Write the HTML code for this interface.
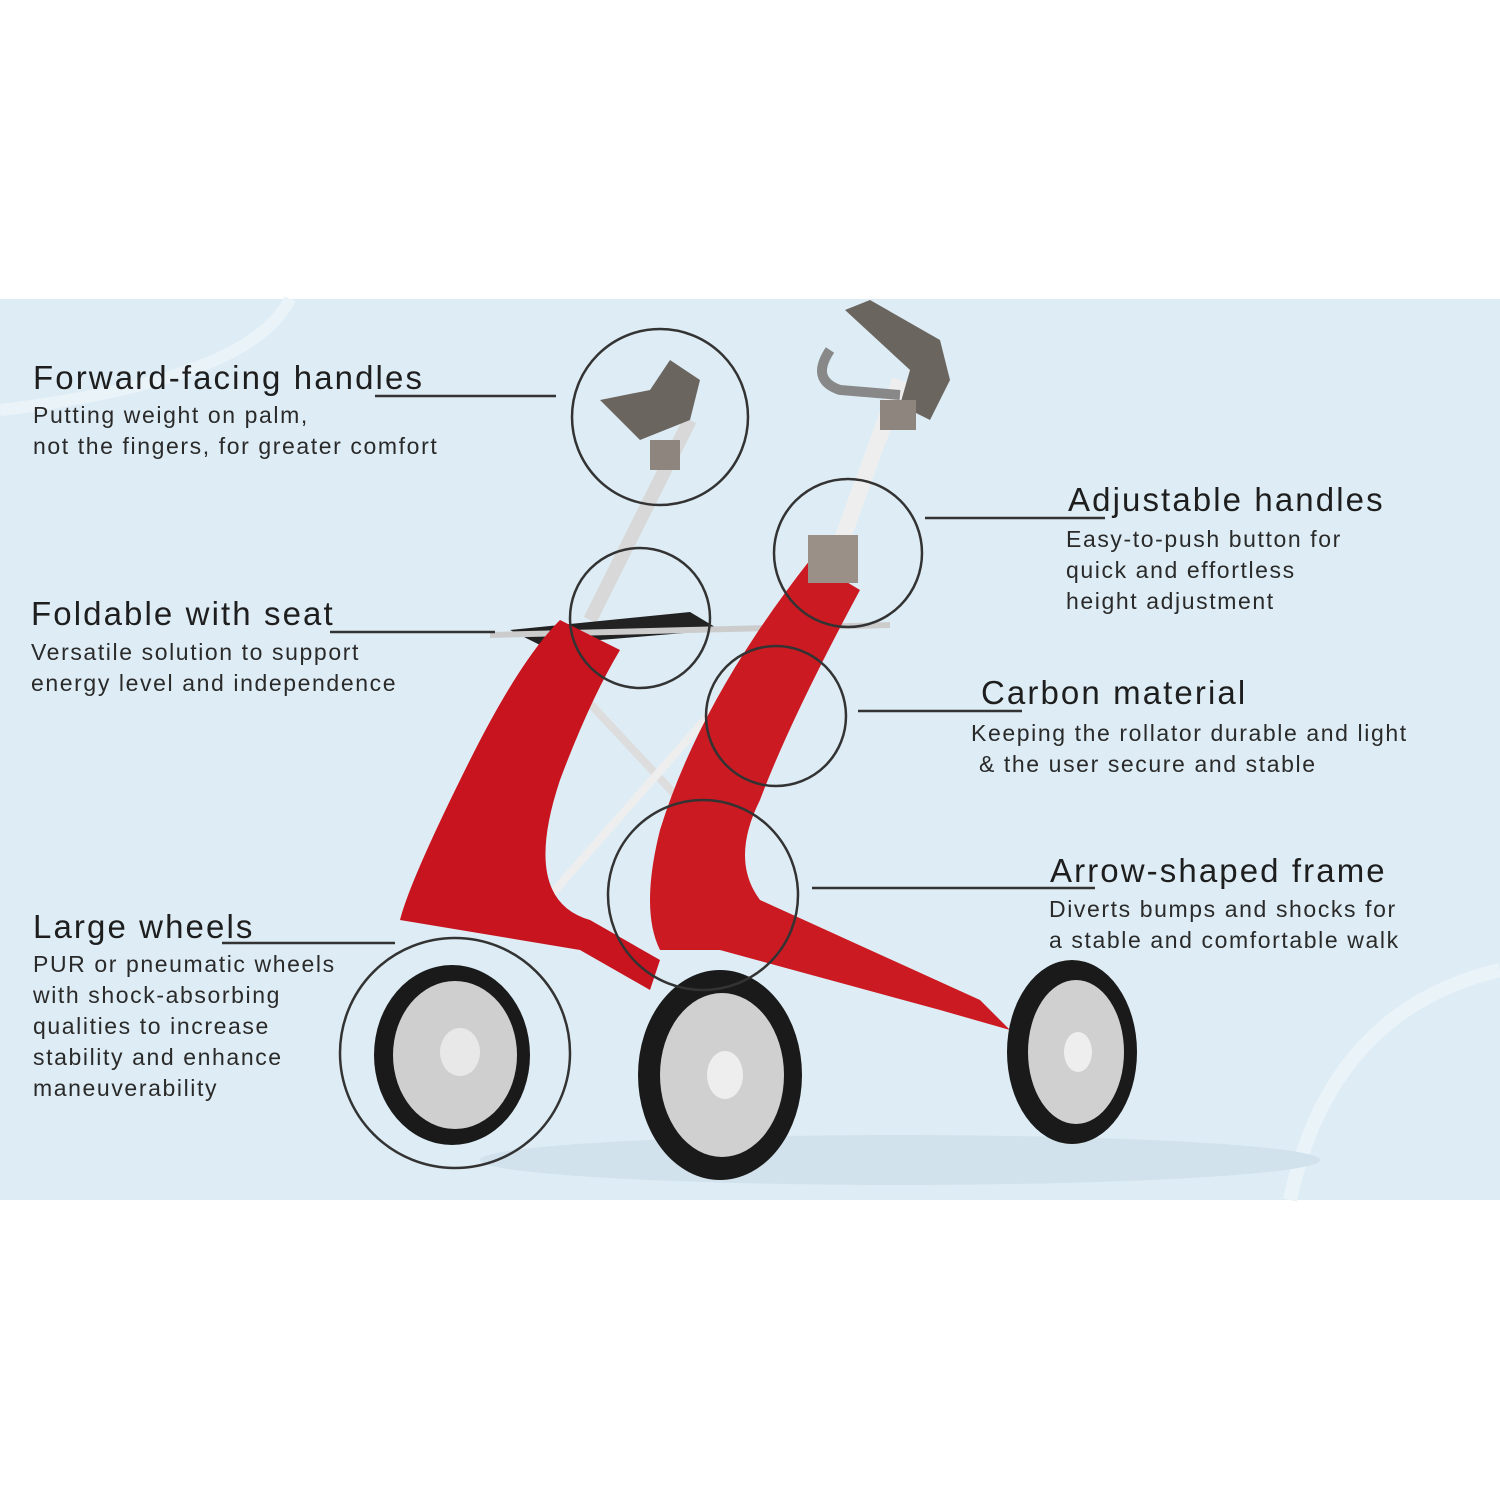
<!DOCTYPE html>
<html><head><meta charset="utf-8"><style>
body{margin:0;width:1500px;height:1500px;background:#fff;position:relative;overflow:hidden;font-family:"Liberation Sans",sans-serif;color:#1e1e1e}
.panel{position:absolute;left:0;top:299px;width:1500px;height:901px;background:#deedf5}
svg{position:absolute;left:0;top:0}
.h{position:absolute;font-size:33px;white-space:nowrap;letter-spacing:2.1px}
.s{position:absolute;font-size:23px;line-height:31px;white-space:nowrap;color:#2a2a2a;letter-spacing:1.6px}
</style></head><body>
<div class="panel"></div>
<svg width="1500" height="1500" viewBox="0 0 1500 1500">
<path d="M0 410 Q250 380 290 299" stroke="#eaf3f8" stroke-width="12" fill="none"/>
<path d="M1290 1200 Q1330 1010 1500 970" stroke="#eaf3f8" stroke-width="14" fill="none"/>
<ellipse cx="900" cy="1160" rx="420" ry="25" fill="#d2e2ec"/>
<line x1="690" y1="420" x2="590" y2="620" stroke="#d8d8d8" stroke-width="14"/>
<line x1="900" y1="380" x2="820" y2="600" stroke="#eee" stroke-width="16"/>
<line x1="540" y1="650" x2="680" y2="800" stroke="#ddd" stroke-width="8"/>
<line x1="520" y1="930" x2="740" y2="680" stroke="#eee" stroke-width="8"/>
<polygon points="510,630 690,612 720,630 540,645" fill="#222"/>
<line x1="490" y1="635" x2="890" y2="625" stroke="#ccc" stroke-width="6"/>
<path d="M560 620 Q520 660 470 760 Q410 880 400 920 L580 950 L650 990 L660 960 L590 920 Q520 900 560 780 Q590 700 620 650 Z" fill="#c8141e"/>
<path d="M810 560 L860 590 Q790 720 760 800 Q730 860 760 900 L980 1000 L1010 1030 L940 1010 L720 950 L660 950 Q640 910 660 830 Q700 700 810 560 Z" fill="#cc1a22"/>
<rect x="808" y="535" width="50" height="48" fill="#9a9088"/>
<path d="M600 400 L640 440 L690 420 L700 380 L670 360 L650 390 Z" fill="#6b6560"/>
<rect x="650" y="440" width="30" height="30" fill="#8d857e"/>
<path d="M845 310 L870 300 L940 340 L950 380 L930 420 L900 405 L910 370 Z" fill="#6b6560"/>
<path d="M830 350 Q810 380 840 390 L900 395" stroke="#888" stroke-width="10" fill="none"/>
<rect x="880" y="400" width="36" height="30" fill="#8d857e"/>
<g><ellipse cx="452" cy="1055" rx="78" ry="90" fill="#1a1a1a"/><ellipse cx="455" cy="1055" rx="62" ry="74" fill="#cfcfcf"/><ellipse cx="460" cy="1052" rx="20" ry="24" fill="#e8e8e8"/></g>
<g><ellipse cx="720" cy="1075" rx="82" ry="105" fill="#1a1a1a"/><ellipse cx="722" cy="1075" rx="62" ry="82" fill="#d0d0d0"/><ellipse cx="725" cy="1075" rx="18" ry="24" fill="#eee"/></g>
<g><ellipse cx="1072" cy="1052" rx="65" ry="92" fill="#1a1a1a"/><ellipse cx="1076" cy="1052" rx="48" ry="72" fill="#d0d0d0"/><ellipse cx="1078" cy="1052" rx="14" ry="20" fill="#eee"/></g>
<g fill="none" stroke="#333" stroke-width="2.5">
<circle cx="660" cy="417" r="88"/>
<circle cx="640" cy="618" r="70"/>
<circle cx="848" cy="553" r="74"/>
<circle cx="776" cy="716" r="70"/>
<circle cx="703" cy="895" r="95"/>
<circle cx="455" cy="1053" r="115"/>
</g>
<g stroke="#333" stroke-width="2.5">
<line x1="375" y1="396" x2="556" y2="396"/>
<line x1="330" y1="632" x2="495" y2="632"/>
<line x1="222" y1="943" x2="395" y2="943"/>
<line x1="925" y1="518" x2="1105" y2="518"/>
<line x1="858" y1="711" x2="1022" y2="711"/>
<line x1="812" y1="888" x2="1095" y2="888"/>
</g>
</svg>
<div class="h" style="left:33px;top:359px">Forward-facing handles</div>
<div class="s" style="left:33px;top:400px">Putting weight on palm,<br>not the fingers, for greater comfort</div>
<div class="h" style="left:31px;top:595px">Foldable with seat</div>
<div class="s" style="left:31px;top:637px">Versatile solution to support<br>energy level and independence</div>
<div class="h" style="left:33px;top:908px">Large wheels</div>
<div class="s" style="left:33px;top:949px">PUR or pneumatic wheels<br>with shock-absorbing<br>qualities to increase<br>stability and enhance<br>maneuverability</div>
<div class="h" style="left:1068px;top:481px">Adjustable handles</div>
<div class="s" style="left:1066px;top:524px">Easy-to-push button for<br>quick and effortless<br>height adjustment</div>
<div class="h" style="left:981px;top:674px">Carbon material</div>
<div class="s" style="left:971px;top:718px">Keeping the rollator durable and light<br>&nbsp;&amp; the user secure and stable</div>
<div class="h" style="left:1050px;top:852px">Arrow-shaped frame</div>
<div class="s" style="left:1049px;top:894px">Diverts bumps and shocks for<br>a stable and comfortable walk</div>
</body></html>
